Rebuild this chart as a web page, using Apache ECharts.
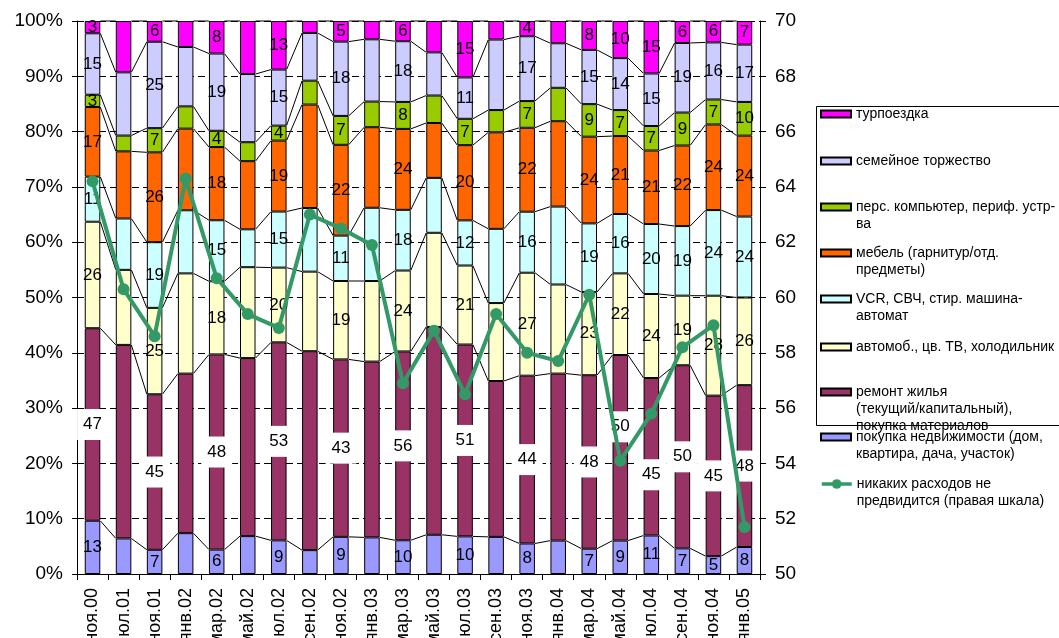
<!DOCTYPE html>
<html>
<head>
<meta charset="utf-8">
<script src="https://cdn.jsdelivr.net/npm/echarts@6/dist/echarts.min.js"></script>
<style>html,body{margin:0;padding:0;background:#fff;}#c{width:1059px;height:638px;}</style>
</head>
<body>
<div id="c"></div>
<script>
// ---------- DATA ----------
const categories = ['ноя.00','июл.01','ноя.01','янв.02','мар.02','май.02','июл.02','сен.02','ноя.02','янв.03','мар.03','май.03','июл.03','сен.03','ноя.03','янв.04','мар.04','май.04','июл.04','сен.04','ноя.04','янв.05'];

// raw shares (% of respondents), bottom to top of stack
const realEstate = [13, 9, 7, 11, 6, 10, 9, 6, 9, 10, 10, 10, 10, 10, 8, 9, 7, 9, 11, 7, 5, 8];
const renovation = [47, 49, 45, 43, 48, 47, 53, 50, 43, 48, 56, 53, 51, 42, 44, 45, 48, 50, 45, 50, 45, 48];
const carsTV     = [26, 19, 25, 27, 18, 24, 20, 20, 19, 22, 24, 24, 21, 21, 27, 24, 23, 22, 24, 19, 28, 26];
const appliances = [11, 13, 19, 17, 15, 10, 15, 16, 11, 20, 18, 14, 12, 20, 16, 21, 19, 16, 20, 19, 24, 24];
const furniture  = [17, 17, 26, 22, 18, 18, 19, 26, 22, 22, 24, 14, 20, 26, 22, 23, 24, 21, 21, 22, 24, 24];
const computer   = [3, 4, 7, 6, 4, 5, 4, 6, 7, 7, 8, 7, 7, 6, 7, 9, 9, 7, 7, 9, 7, 10];
const celebration= [15, 16, 25, 16, 19, 18, 15, 12, 18, 17, 18, 11, 11, 19, 17, 12, 15, 14, 15, 19, 16, 17];
const travel     = [3, 13, 6, 7, 8, 14, 13, 3, 5, 5, 6, 8, 15, 5, 4, 6, 8, 10, 15, 6, 6, 7];

// no expenses expected (right scale)
const noExpenses = [64.2, 60.3, 58.6, 64.3, 60.7, 59.4, 58.9, 63.0, 62.5, 61.9, 56.9, 58.8, 56.5, 59.4, 58.0, 57.7, 60.1, 54.1, 55.8, 58.2, 59.0, 51.7];

// bars that carry value labels
const labeledBars = [0, 2, 4, 6, 8, 10, 12, 14, 16, 17, 18, 19, 20, 21];

const leftTicks = {min: 0, max: 100, interval: 10};
const rightTicks = {min: 50, max: 70, interval: 2};

const seriesNames = [
  'покупка недвижимости (дом,\nквартира, дача, участок)',
  'ремонт жилья\n(текущий/капитальный),\nпокупка материалов',
  'автомоб., цв. ТВ, холодильник',
  'VCR, СВЧ, стир. машина-\nавтомат',
  'мебель (гарнитур/отд.\nпредметы)',
  'перс. компьютер, периф. устр-\nва',
  'семейное торжество',
  'турпоездка'
];
const lineName = 'никаких расходов не\nпредвидится (правая шкала)';

// ---------- BUILD ----------
const raw = [realEstate, renovation, carsTV, appliances, furniture, computer, celebration, travel];
const colors = ['#9999FF', '#993366', '#FFFFCC', '#CCFFFF', '#FF6600', '#99CC00', '#CCCCFF', '#FF00FF'];
const FONT = 'Liberation Sans';
const n = categories.length;
const totals = categories.map((_, i) => raw.reduce((s, a) => s + a[i], 0));
const pct = raw.map(a => a.map((v, i) => v / totals[i] * 100));
// cumulative top boundary of each segment
const cum = categories.map((_, i) => {
  let s = 0; return pct.map(a => (s += a[i]));
});
// manually moved labels of the renovation series (pixel offsets)
const renovationLabelNudge = {17: -21, 18: 18};

const barSeries = raw.map((arr, k) => ({
  type: 'bar',
  name: seriesNames[k],
  stack: 'total',
  barWidth: '50%',
  yAxisIndex: 0,
  itemStyle: {color: colors[k], borderColor: '#000', borderWidth: 1},
  label: Object.assign({
    position: 'inside',
    color: '#000',
    fontFamily: FONT,
    fontSize: 17,
    formatter: p => String(arr[p.dataIndex])
  }, k === 1 ? {backgroundColor: '#fff', padding: [7, 6]} : {}),
  emphasis: {disabled: true},
  data: pct[k].map((v, i) => {
    const lab = {show: labeledBars.indexOf(i) >= 0};
    if (k === 1 && renovationLabelNudge[i]) lab.offset = [0, renovationLabelNudge[i]];
    return {value: v, label: lab};
  }),
  z: 3
}));

const seriesLines = {
  type: 'custom',
  name: '_serieslines',
  xAxisIndex: 0,
  yAxisIndex: 0,
  silent: true,
  z: 2,
  encode: {x: 0, y: 1},
  data: categories.slice(0, n - 1).map((_, i) => [i, 0]),
  renderItem: function (params, api) {
    const i = api.value(0);
    const hw = api.size([1, 0])[0] * 0.25;
    const children = [];
    for (let k = 0; k < cum[i].length; k++) {
      const p1 = api.coord([i, cum[i][k]]);
      const p2 = api.coord([i + 1, cum[i + 1][k]]);
      children.push({
        type: 'line',
        shape: {x1: p1[0] + hw, y1: p1[1], x2: p2[0] - hw, y2: p2[1]},
        style: {stroke: '#000', lineWidth: 1}
      });
    }
    return {type: 'group', children: children};
  }
};

const lineSeries = {
  type: 'line',
  name: lineName,
  yAxisIndex: 1,
  data: noExpenses,
  symbol: 'circle',
  symbolSize: 12,
  lineStyle: {color: '#339966', width: 4},
  itemStyle: {color: '#339966'},
  emphasis: {disabled: true},
  z: 5
};

// legend: one component per entry, top-to-bottom order
const legendOrder = [7, 6, 5, 4, 3, 2, 1, 0];
const legendCenters = [114, 161, 207, 253, 299, 347, 392, 437, 484];
const LH = 17;
const legends = [];
legendOrder.concat(['line']).forEach((k, j) => {
  const name = k === 'line' ? lineName : seriesNames[k];
  const nl = name.split('\n').length;
  const isLine = k === 'line';
  legends.push({
    show: true,
    left: 820,
    top: legendCenters[j] - (2 * nl - 1) * LH / 2,
    padding: 0,
    orient: 'vertical',
    selectedMode: false,
    data: [isLine ? {name: name, lineStyle: {width: 3.5}} : {name: name, icon: 'rect'}],
    itemWidth: 30,
    itemHeight: isLine ? 12 : 7,
    formatter: nm => '\n'.repeat(nm.split('\n').length - 1) + nm,
    textStyle: {fontFamily: FONT, fontSize: 14, lineHeight: LH, color: '#000'}
  });
});

const option = {
  animation: false,
  backgroundColor: '#fff',
  textStyle: {fontFamily: FONT},
  grid: {left: 77, right: 299, top: 21, bottom: 64, containLabel: false, outerBoundsMode: 'none'},
  legend: legends,
  graphic: [{
    type: 'rect', left: 814, top: 104, silent: true,
    shape: {width: 300, height: 319},
    style: {fill: 'none', stroke: '#000', lineWidth: 1}
  }],
  xAxis: {
    type: 'category',
    data: categories,
    boundaryGap: true,
    axisLine: {show: true, lineStyle: {color: '#000', width: 1}},
    axisTick: {show: true, length: 6, lineStyle: {color: '#000'}, alignWithLabel: false, interval: 0},
    axisLabel: {rotate: 90, interval: 0, margin: 14, fontSize: 18, color: '#000', fontFamily: FONT},
    splitLine: {show: false}
  },
  yAxis: [{
    type: 'value',
    min: leftTicks.min, max: leftTicks.max, interval: leftTicks.interval,
    position: 'left',
    axisLine: {show: true, lineStyle: {color: '#000', width: 1}},
    axisTick: {show: true, length: 5, inside: false, lineStyle: {color: '#000'}},
    axisLabel: {formatter: '{value}%', fontSize: 19, color: '#000', margin: 14, fontFamily: FONT},
    splitLine: {show: true, lineStyle: {color: '#000', width: 1, type: [7, 4]}}
  }, {
    type: 'value',
    min: rightTicks.min, max: rightTicks.max, interval: rightTicks.interval,
    position: 'right',
    axisLine: {show: true, lineStyle: {color: '#000', width: 1}},
    axisTick: {show: true, length: 6, inside: false, lineStyle: {color: '#000'}},
    axisLabel: {fontSize: 19, color: '#000', margin: 15, fontFamily: FONT},
    splitLine: {show: false}
  }],
  series: barSeries.concat([seriesLines, lineSeries])
};

const chart = echarts.init(document.getElementById('c'), null, {renderer: 'canvas'});
chart.setOption(option);
</script>
</body>
</html>
